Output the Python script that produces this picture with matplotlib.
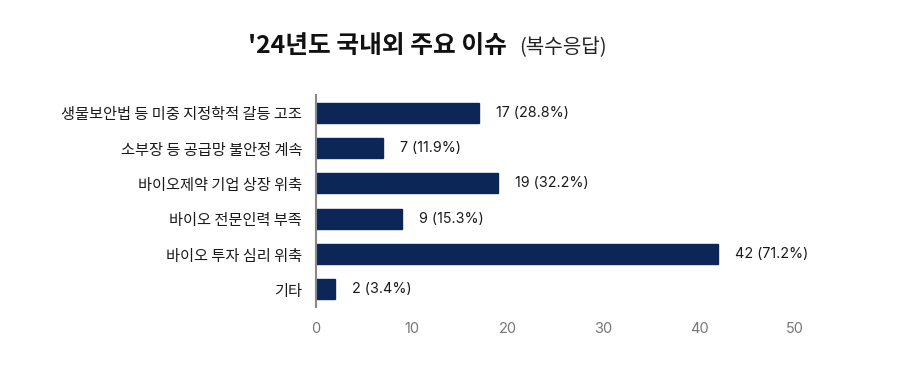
import matplotlib
matplotlib.use("Agg")
import matplotlib.pyplot as plt

plt.rcParams['font.family'] = ['Noto Sans CJK KR', 'DejaVu Sans']

categories = ["생물보안법 등 미중 지정학적 갈등 고조", "소부장 등 공급망 불안정 계속",
              "바이오제약 기업 상장 위축", "바이오 전문인력 부족",
              "바이오 투자 심리 위축", "기타"]
counts = [17, 7, 19, 9, 42, 2]
percents = [28.8, 11.9, 32.2, 15.3, 71.2, 3.4]
xticks = [0, 10, 20, 30, 40, 50]
title_main = "'24년도 국내외 주요 이슈"
title_sub = "(복수응답)"

fig = plt.figure(figsize=(8.97, 3.68), dpi=100)
ax = fig.add_axes([316/897, 1-307/368, (795-316)/897, (307-95)/368])

ypos = list(range(len(categories)))
ax.barh(ypos, counts, height=0.57, color="#0B2657", edgecolor="#0B2657")
ax.set_ylim(len(categories)-0.5, -0.5)
ax.set_xlim(0, 50)
ax.set_yticks(ypos)
ax.set_yticklabels(categories, fontsize=11, color="#1a1a1a", fontweight='medium')
ax.set_xticks(xticks)
ax.set_xticklabels([str(t) for t in xticks], fontsize=10.5, color="#777777",
                   family=['Inter', 'Noto Sans CJK KR'])
ax.tick_params(axis='y', length=0, pad=10)
ax.tick_params(axis='x', length=0, pad=11)
for s in ['top', 'right', 'bottom']:
    ax.spines[s].set_visible(False)
ax.spines['left'].set_color("#888888")
ax.spines['left'].set_linewidth(1.5)

for y, c, p in zip(ypos, counts, percents):
    ax.annotate(f"{c} ({p}%)", xy=(c, y), xytext=(17, 0), textcoords='offset pixels',
                va='center', ha='left', fontsize=10.3, color="#1a1a1a",
                family=['Inter', 'Noto Sans CJK KR'])

t1 = fig.text(248/897, 1-53/368, title_main, fontsize=17.8, fontweight='bold', color="#111111",
              ha='left', va='baseline')
fig.canvas.draw()
bb = t1.get_window_extent()
fig.text((bb.x1 + 12)/897, 1-53/368, title_sub, fontsize=14.5, color="#222222", ha='left', va='baseline')

fig.savefig("out.png", dpi=100)
